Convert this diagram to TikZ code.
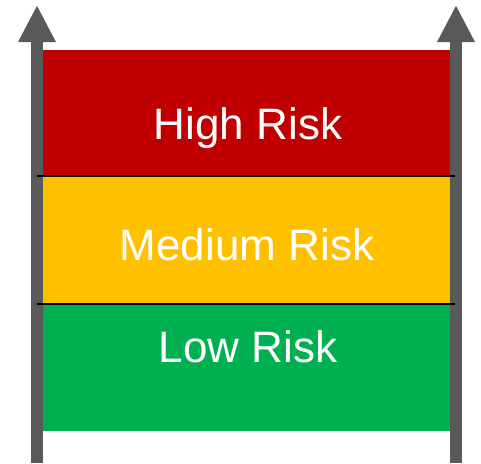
\documentclass[tikz,border=0pt]{standalone}
\usepackage{fontspec}
\setmainfont{Liberation Sans}
\usetikzlibrary{arrows.meta}
\definecolor{riskred}{HTML}{C00000}
\definecolor{riskyellow}{HTML}{FFC000}
\definecolor{riskgreen}{HTML}{00B050}
\definecolor{axisgray}{HTML}{595959}
\tikzset{
  risktext/.style={anchor=base,inner sep=0pt,outer sep=0pt,text=white,font=\fontsize{44}{50}\selectfont},
  riskaxis/.style={draw=axisgray,line width=12pt,-{Triangle[width=35pt,length=37pt]}},
  bandline/.style={draw=black,line width=1.5pt}
}
\begin{document}
\begin{tikzpicture}[x=1pt,y=-1pt]
\useasboundingbox (0,0) rectangle (481,463);
% bands
\fill[riskred] (43,50) rectangle (450,176);
\fill[riskyellow] (43,176) rectangle (450,304);
\fill[riskgreen] (43,304) rectangle (450,431);
% axes
\coordinate (La) at (37,463);
\coordinate (Lb) at (37,5);
\coordinate (Ra) at (456,463);
\coordinate (Rb) at (456,5);
\draw[riskaxis] (La) -- (Lb);
\draw[riskaxis] (Ra) -- (Rb);
%\draw (0,240) node {};
\draw[bandline] (37,176) -- (455,176);
\draw[bandline] (37,304) -- (455,304);
\draw (248,139) node[risktext] (high) {High Risk};
\draw (247,260) node[risktext] (medium) {Medium Risk};
\draw (248,362) node[risktext] (low) {Low Risk};
\end{tikzpicture}
\end{document}
